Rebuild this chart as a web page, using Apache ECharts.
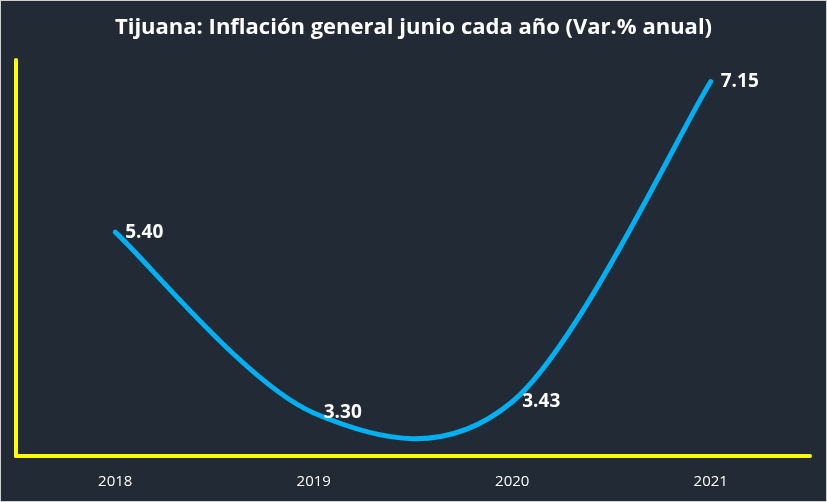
<!DOCTYPE html>
<html><head><meta charset="utf-8">
<script src="https://cdn.jsdelivr.net/npm/echarts@6/dist/echarts.min.js"></script>
<style>html,body{margin:0;padding:0;background:#222a35}#c{width:827px;height:502px;box-sizing:border-box;border:1px solid #d0d0d0}</style>
</head><body><div id="c"></div>
<script>
const categories = ['2018', '2019', '2020', '2021'];
const inflation = [5.40, 3.30, 3.43, 7.15];
const titleText = 'Tijuana: Inflación general junio cada año (Var.% anual)';

// Smooth curve (Excel-style Catmull-Rom) built from the data through the axes' scales
function renderCurve(params, api) {
  if (params.dataIndex !== 0) return null;
  const pts = inflation.map((v, i) => api.coord([i, v]));
  const n = pts.length;
  let d = 'M' + pts[0][0] + ' ' + pts[0][1];
  for (let i = 0; i < n - 1; i++) {
    const p0 = pts[Math.max(0, i - 1)], p1 = pts[i], p2 = pts[i + 1], p3 = pts[Math.min(n - 1, i + 2)];
    const c1 = [p1[0] + (p2[0] - p0[0]) / 6, p1[1] + (p2[1] - p0[1]) / 6];
    const c2 = [p2[0] - (p3[0] - p1[0]) / 6, p2[1] - (p3[1] - p1[1]) / 6];
    d += ' C' + c1[0] + ' ' + c1[1] + ' ' + c2[0] + ' ' + c2[1] + ' ' + p2[0] + ' ' + p2[1];
  }
  return {
    type: 'path',
    shape: { pathData: d },
    style: { fill: null, stroke: '#00b0f0', lineWidth: 5, lineCap: 'round', lineJoin: 'round' }
  };
}

const chart = echarts.init(document.getElementById('c'));
chart.setOption({
  backgroundColor: '#222a35',
  animation: false,
  title: {
    text: titleText, left: 'center', top: 11,
    textStyle: { color: '#ffffff', fontSize: 22, fontWeight: 'bold', fontFamily: 'Open Sans' }
  },
  grid: { left: 15, right: 16, top: 59, bottom: 45 },
  xAxis: {
    type: 'category', data: categories, boundaryGap: true,
    axisLine: { lineStyle: { color: '#ffff00', width: 4 } },
    axisTick: { show: false },
    axisLabel: { color: '#ffffff', fontSize: 15, margin: 18, fontFamily: 'Open Sans' }
  },
  yAxis: {
    type: 'value', min: 2.8, max: 7.4,
    axisLine: { show: true, lineStyle: { color: '#ffff00', width: 4 } },
    axisTick: { show: false }, axisLabel: { show: false }, splitLine: { show: false }
  },
  series: [{
    type: 'custom', data: inflation.map((v, i) => [i, v]),
    renderItem: renderCurve, silent: true, z: 2
  }, {
    type: 'line', data: inflation,
    symbol: 'circle', symbolSize: 2, showSymbol: true,
    itemStyle: { color: '#00b0f0' },
    lineStyle: { width: 0, opacity: 0 },
    z: 3,
    label: {
      show: true, position: 'right', distance: 9,
      formatter: p => p.value.toFixed(2),
      color: '#ffffff', fontSize: 19, fontWeight: 'bold', fontFamily: 'Open Sans'
    }
  }]
});
</script></body></html>
